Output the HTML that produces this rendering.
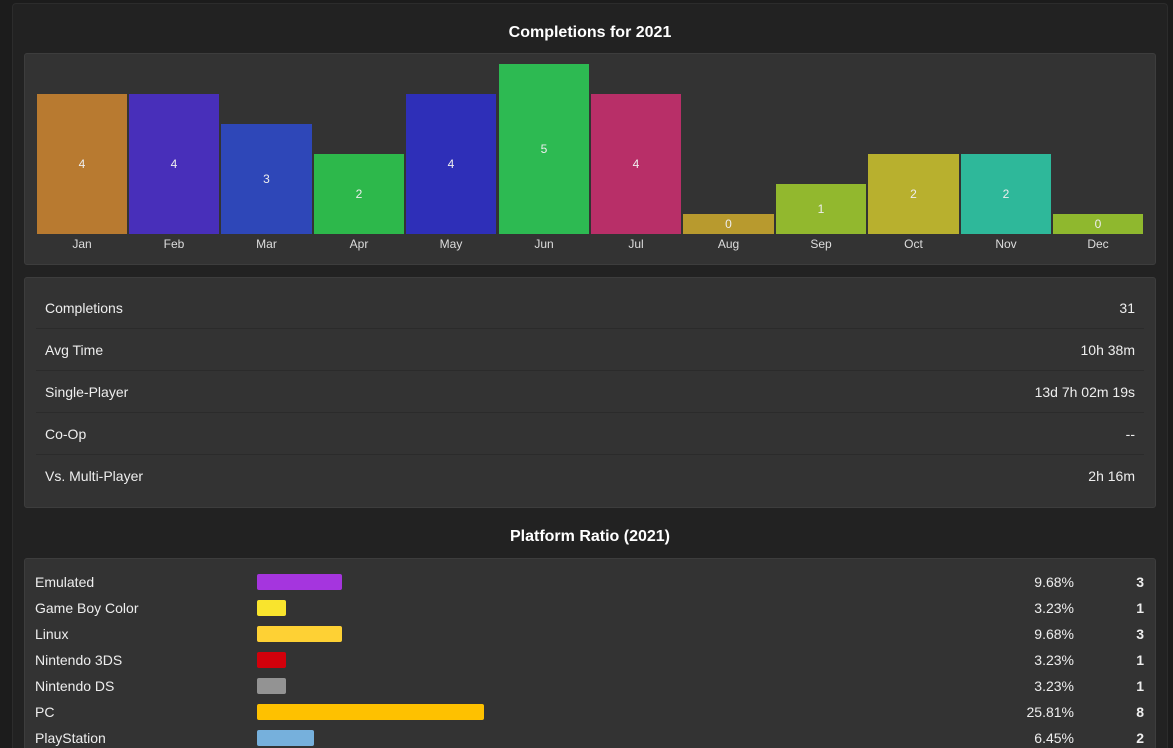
<!DOCTYPE html>
<html><head><meta charset="utf-8"><style>
*{box-sizing:border-box;margin:0;padding:0}
html,body{width:1173px;height:748px;overflow:hidden}
body{background:#1c1c1c;font-family:"Liberation Sans",sans-serif;color:#eee;position:relative}
.wrap{position:absolute;left:12px;top:3px;width:1156px;height:760px;background:#222;border:1px solid #2c2c2c;border-radius:4px}
.panel{position:absolute;left:24px;width:1132px;background:#333;border:1px solid #3d3d3d;border-radius:3px}
.title{position:absolute;left:24px;width:1132px;text-align:center;font-weight:bold;font-size:16px;color:#fff}
.bar{position:absolute;bottom:0;color:#eee;font-size:12px;display:flex;align-items:center;justify-content:center}
.lbl{position:absolute;top:237px;font-size:12px;color:#ddd;text-align:center}
.row{position:absolute;left:36px;width:1108px;height:42px;font-size:14px;line-height:42px;border-bottom:1px solid #2b2b2b;padding:0 9px}
.row span{float:right}
.p{position:absolute;left:35px;font-size:14px;height:26px;line-height:26px;width:1109px}
.p i{position:absolute;left:222px;top:5px;height:16px;border-radius:2px}
.p .pc{position:absolute;right:70px}
.p b{position:absolute;right:0}
</style></head><body>
<div class="wrap"></div>
<div class="title" style="top:24px">Completions for 2021</div>
<div class="panel" style="top:53px;height:212px"></div>
<div style="position:absolute;left:0;top:0;width:1173px;height:234px">
<div class="bar" style="left:37px;width:90px;height:140px;background:#b87a30">4</div>
<div class="bar" style="left:129px;width:90px;height:140px;background:#482fba">4</div>
<div class="bar" style="left:221px;width:91px;height:110px;background:#2e47b8">3</div>
<div class="bar" style="left:314px;width:90px;height:80px;background:#2db84b">2</div>
<div class="bar" style="left:406px;width:90px;height:140px;background:#2e2fb8">4</div>
<div class="bar" style="left:499px;width:90px;height:170px;background:#2dba52">5</div>
<div class="bar" style="left:591px;width:90px;height:140px;background:#b82f68">4</div>
<div class="bar" style="left:683px;width:91px;height:20px;background:#b89a2e">0</div>
<div class="bar" style="left:776px;width:90px;height:50px;background:#92b82e">1</div>
<div class="bar" style="left:868px;width:91px;height:80px;background:#b8b02e">2</div>
<div class="bar" style="left:961px;width:90px;height:80px;background:#2eb89a">2</div>
<div class="bar" style="left:1053px;width:90px;height:20px;background:#8fb82e">0</div>
</div>
<div class="lbl" style="left:37px;width:90px">Jan</div>
<div class="lbl" style="left:129px;width:90px">Feb</div>
<div class="lbl" style="left:221px;width:91px">Mar</div>
<div class="lbl" style="left:314px;width:90px">Apr</div>
<div class="lbl" style="left:406px;width:90px">May</div>
<div class="lbl" style="left:499px;width:90px">Jun</div>
<div class="lbl" style="left:591px;width:90px">Jul</div>
<div class="lbl" style="left:683px;width:91px">Aug</div>
<div class="lbl" style="left:776px;width:90px">Sep</div>
<div class="lbl" style="left:868px;width:91px">Oct</div>
<div class="lbl" style="left:961px;width:90px">Nov</div>
<div class="lbl" style="left:1053px;width:90px">Dec</div>

<div class="panel" style="top:277px;height:231px"></div>
<div class="row" style="top:287px">Completions<span>31</span></div>
<div class="row" style="top:329px">Avg Time<span>10h 38m</span></div>
<div class="row" style="top:371px">Single-Player<span>13d 7h 02m 19s</span></div>
<div class="row" style="top:413px">Co-Op<span>--</span></div>
<div class="row" style="top:455px;border-bottom:none">Vs. Multi-Player<span>2h 16m</span></div>

<div class="title" style="top:528px">Platform Ratio (2021)</div>
<div class="panel" style="top:558px;height:200px"></div>
<div class="p" style="top:569px">Emulated<i style="width:85px;background:#a535de"></i><span class="pc">9.68%</span><b>3</b></div>
<div class="p" style="top:595px">Game Boy Color<i style="width:29px;background:#f9e42d"></i><span class="pc">3.23%</span><b>1</b></div>
<div class="p" style="top:621px">Linux<i style="width:85px;background:#fed134"></i><span class="pc">9.68%</span><b>3</b></div>
<div class="p" style="top:647px">Nintendo 3DS<i style="width:29px;background:#d3000b"></i><span class="pc">3.23%</span><b>1</b></div>
<div class="p" style="top:673px">Nintendo DS<i style="width:29px;background:#939393"></i><span class="pc">3.23%</span><b>1</b></div>
<div class="p" style="top:699px">PC<i style="width:227px;background:#fec100"></i><span class="pc">25.81%</span><b>8</b></div>
<div class="p" style="top:725px">PlayStation<i style="width:57px;background:#76b0dc"></i><span class="pc">6.45%</span><b>2</b></div>
</body></html>
